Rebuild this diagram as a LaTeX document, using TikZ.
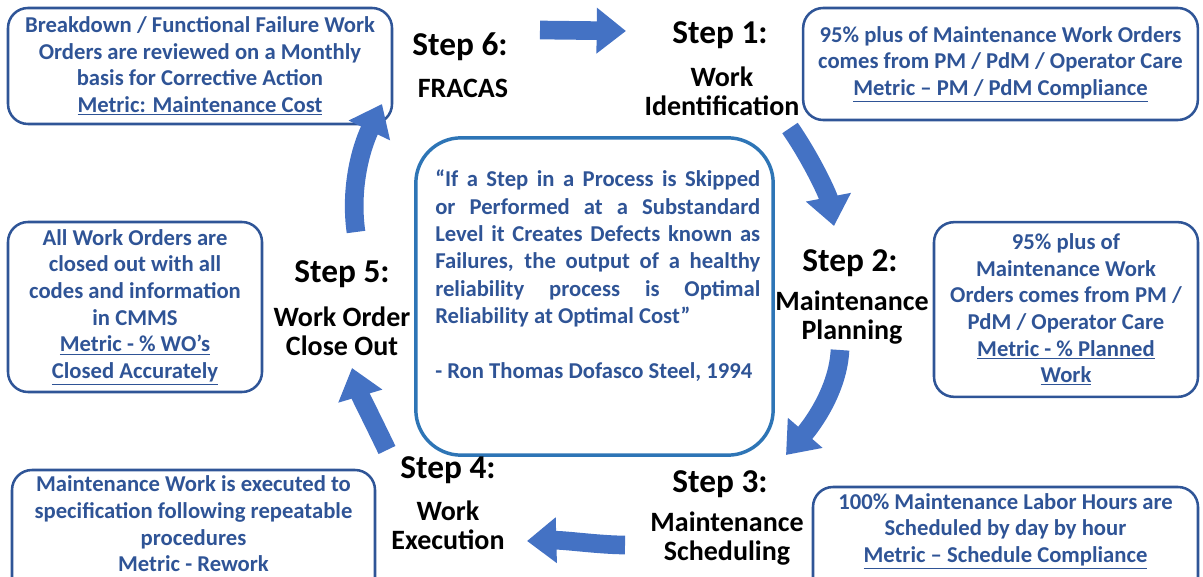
\documentclass[tikz,border=0pt]{standalone}
\usepackage{fontspec}
\setmainfont{Carlito}
\usetikzlibrary{arrows.meta}
\definecolor{txtblue}{HTML}{2F5496}
\definecolor{boxline}{HTML}{2F5597}
\definecolor{quoteline}{HTML}{2E75B6}
\definecolor{arrowblue}{HTML}{4472C4}
\begin{document}
\begin{tikzpicture}[x=0.75pt,y=-0.75pt,
  boxframe/.style={draw=boxline, line width=1.9pt, rounded corners=15pt},
  boxtext/.style={align=center, text=txtblue, font=\fontsize{17}{20}\selectfont\bfseries, inner sep=0pt},
  infobox/.style={boxframe, boxtext},
  steptitle/.style={font=\fontsize{25}{30}\selectfont\bfseries, text=black, inner sep=0pt},
  stepsub/.style={font=\fontsize{21}{21.75}\selectfont\bfseries, text=black, align=center, inner sep=0pt},
  cyclearrow/.style={line width=14pt, draw=arrowblue, -{Triangle[width=33pt,length=22pt]}},
]
\useasboundingbox (0,0) rectangle (1203,577);
\clip (0,0) rectangle (1203,577);

% information boxes
\node[infobox, minimum width=288pt, minimum height=87pt] (b6) at (200,66)
  {Breakdown / Functional Failure Work\\Orders are reviewed on a Monthly\\basis for Corrective Action\\\underline{Metric: Maintenance Cost}};
\node[infobox, minimum width=296pt, minimum height=84pt] (b1) at (1000.5,64)
  {95\% plus of Maintenance Work Orders\\comes from PM / PdM / Operator Care\\\underline{Metric – PM / PdM Compliance}};
\node[infobox, minimum width=190.5pt, minimum height=127.5pt] (b5) at (135,307)
  {All Work Orders are\\closed out with all\\codes and information\\in CMMS\\\underline{Metric - \% WO’s}\\\underline{Closed Accurately}};
\node[infobox, minimum width=198pt, minimum height=131pt] (b2) at (1066,309.5)
  {95\% plus of\\Maintenance Work\\Orders comes from PM /\\PdM / Operator Care\\\underline{Metric - \% Planned}\\\underline{Work}};

% bottom boxes run off the lower edge
\draw[boxframe] (12,470) rectangle (375,610);
\node[boxtext] (b4) at (193.5,524)
  {Maintenance Work is executed to\\specification following repeatable\\procedures\\Metric - Rework};
\draw[boxframe] (813,487) rectangle (1198,610);
\node[boxtext] (b3) at (1005.5,531)
  {100\% Maintenance Labor Hours are\\Scheduled by day by hour\\\underline{Metric – Schedule Compliance}};

% central quote
\node[draw=quoteline, line width=2.6pt, rounded corners=34pt, minimum width=268pt, minimum height=238pt] (qbox) at (594.5,296.5) {};
\node[anchor=north west, inner sep=0pt, text width=243.75pt, align=justify, text=txtblue,
  font=\fontsize{17}{20.5}\selectfont\bfseries] (quote) at (435,170)
  {“If a Step in a Process is Skipped\linebreak or Performed at a Substandard\linebreak Level it Creates Defects known as\linebreak Failures, the output of a healthy\linebreak reliability process is Optimal\linebreak Reliability at Optimal Cost”\par\vspace{20.5pt}\noindent - Ron Thomas Dofasco Steel, 1994};

% step labels
\node[steptitle] (s6t) at (460,47) {Step 6:};
\node[stepsub] (s6s) at (463,88) {FRACAS};
\node[steptitle] (s1t) at (720,35) {Step 1:};
\node[stepsub] (s1s) at (722,91.5) {Work\\Identification};
\node[steptitle] (s2t) at (850,263) {Step 2:};
\node[stepsub] (s2s) at (852,318) {Maintenance\\Planning};
\node[steptitle] (s3t) at (720,484) {Step 3:};
\node[stepsub] (s3s) at (727,539) {Maintenance\\Scheduling};
\node[steptitle] (s4t) at (448,470) {Step 4:};
\node[stepsub] (s4s) at (448,525) {Work\\Execution};
\node[steptitle] (s5t) at (342,274) {Step 5:};
\node[stepsub] (s5s) at (342,331.5) {Work Order\\Close Out};

% cycle arrows
\coordinate (a6s) at (540,30);  \coordinate (a6e) at (626,31);
\coordinate (a1s) at (790,128); \coordinate (a1e) at (834,226);
\coordinate (a2s) at (840,350); \coordinate (a2e) at (786,455);
\coordinate (a3s) at (625,545); \coordinate (a3e) at (527,541);
\coordinate (a4s) at (387,450); \coordinate (a4e) at (352,368);
\coordinate (a5s) at (356,232); \coordinate (a5e) at (382,104);

\draw[cyclearrow] (a6s) -- (a6e);
\draw[cyclearrow] (a1s) .. controls (812,160) and (828,195) .. (a1e);
\draw[cyclearrow] (a2s) .. controls (838,390) and (812,425) .. (a2e);
\draw[cyclearrow] (a3s) .. controls (600,545) and (565,540) .. (a3e);
\draw[cyclearrow] (a4s) .. controls (375,425) and (360,395) .. (a4e);
\draw[cyclearrow] (a5s) .. controls (350,190) and (360,150) .. (a5e);
\end{tikzpicture}
\end{document}
